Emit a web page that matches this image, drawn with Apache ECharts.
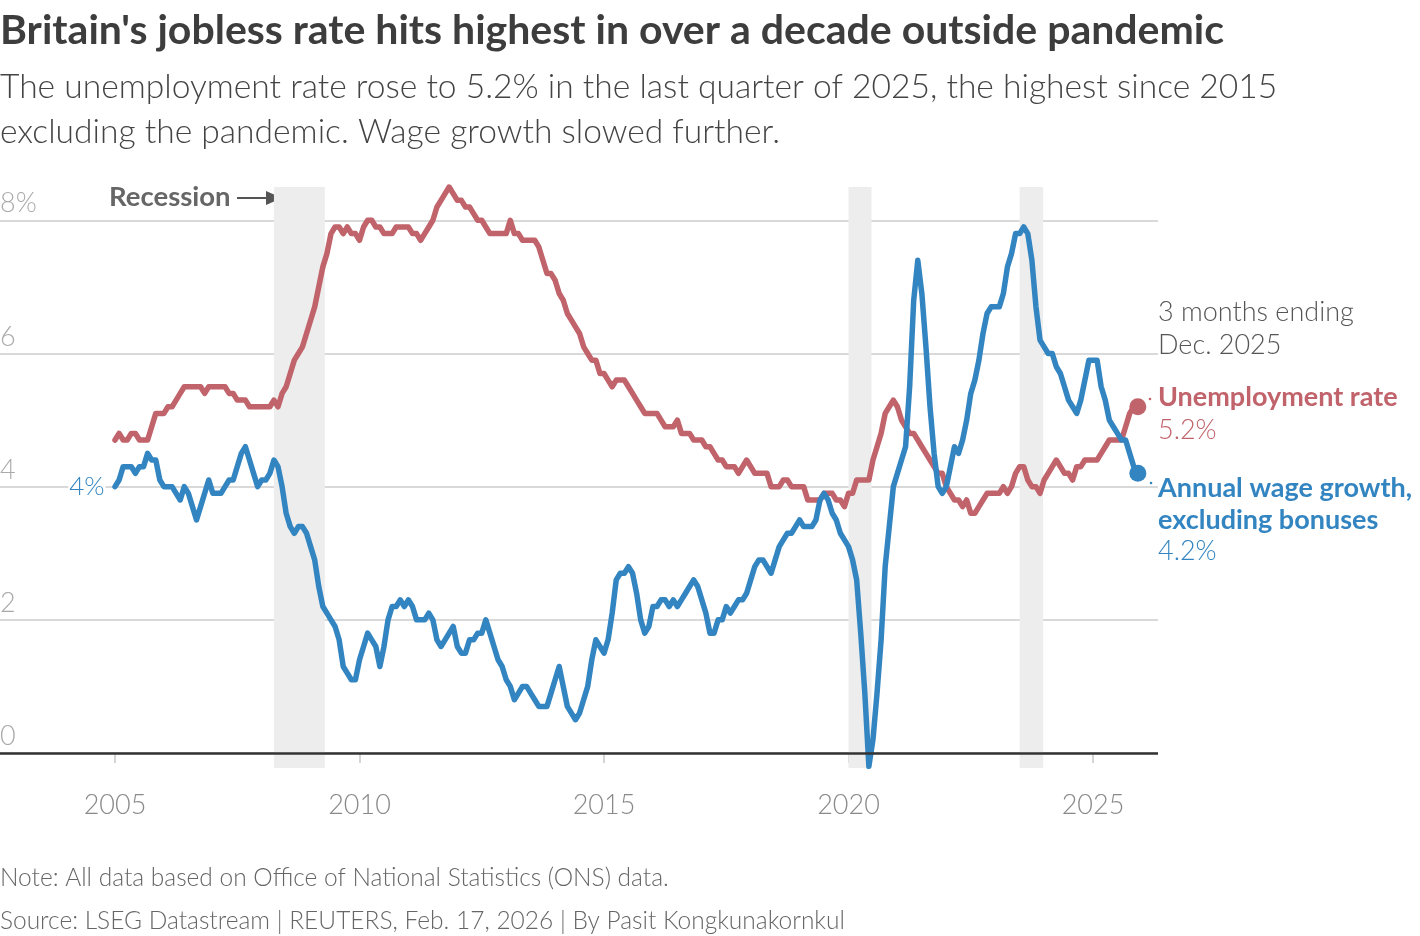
<!DOCTYPE html>
<html><head><meta charset="utf-8">
<script src="https://cdn.jsdelivr.net/npm/echarts@6/dist/echarts.min.js"></script>
<style>html,body{margin:0;padding:0;background:#fff}#c{width:1420px;height:936px}</style>
</head><body><div id="c"></div>
<script>
// ---- data: 3 months ending each month, Jan 2005 .. Dec 2025 ----
const startYear = 2005;
const unemployment = [
  4.7,4.8,4.7,4.7,4.8,4.8,4.7,4.7,4.7,4.9,5.1,5.1, // 2005
  5.1,5.2,5.2,5.3,5.4,5.5,5.5,5.5,5.5,5.5,5.4,5.5, // 2006
  5.5,5.5,5.5,5.5,5.4,5.4,5.3,5.3,5.3,5.2,5.2,5.2, // 2007
  5.2,5.2,5.2,5.3,5.2,5.4,5.5,5.7,5.9,6.0,6.1,6.3, // 2008
  6.5,6.7,7.0,7.3,7.5,7.8,7.9,7.9,7.8,7.9,7.8,7.8, // 2009
  7.7,7.9,8.0,8.0,7.9,7.9,7.8,7.8,7.8,7.9,7.9,7.9, // 2010
  7.9,7.8,7.8,7.7,7.8,7.9,8.0,8.2,8.3,8.4,8.5,8.4, // 2011
  8.3,8.3,8.2,8.2,8.1,8.0,8.0,7.9,7.8,7.8,7.8,7.8, // 2012
  7.8,8.0,7.8,7.8,7.7,7.7,7.7,7.7,7.6,7.4,7.2,7.2, // 2013
  7.1,6.9,6.8,6.6,6.5,6.4,6.3,6.1,6.0,5.9,5.9,5.7, // 2014
  5.7,5.6,5.5,5.6,5.6,5.6,5.5,5.4,5.3,5.2,5.1,5.1, // 2015
  5.1,5.1,5.0,4.9,4.9,4.9,5.0,4.8,4.8,4.8,4.7,4.7, // 2016
  4.7,4.6,4.6,4.5,4.4,4.4,4.3,4.3,4.3,4.2,4.3,4.4, // 2017
  4.3,4.2,4.2,4.2,4.2,4.0,4.0,4.0,4.1,4.1,4.0,4.0, // 2018
  4.0,4.0,3.8,3.8,3.8,3.8,3.9,3.9,3.9,3.8,3.8,3.7, // 2019
  3.9,3.9,4.1,4.1,4.1,4.1,4.4,4.6,4.8,5.1,5.2,5.3, // 2020
  5.2,5.0,4.9,4.8,4.8,4.7,4.6,4.5,4.4,4.3,4.2,4.2, // 2021
  4.0,3.9,3.8,3.8,3.7,3.8,3.6,3.6,3.7,3.8,3.9,3.9, // 2022
  3.9,3.9,4.0,3.9,4.0,4.2,4.3,4.3,4.1,4.0,4.0,3.9, // 2023
  4.1,4.2,4.3,4.4,4.3,4.2,4.2,4.1,4.3,4.3,4.4,4.4, // 2024
  4.4,4.4,4.5,4.6,4.7,4.7,4.7,4.7,4.9,5.1,5.2,5.2  // 2025
];
const wageGrowth = [
  4.0,4.1,4.3,4.3,4.3,4.2,4.3,4.3,4.5,4.4,4.4,4.1, // 2005
  4.0,4.0,4.0,3.9,3.8,4.0,3.9,3.7,3.5,3.7,3.9,4.1, // 2006
  3.9,3.9,3.9,4.0,4.1,4.1,4.3,4.5,4.6,4.4,4.2,4.0, // 2007
  4.1,4.1,4.2,4.4,4.3,4.0,3.6,3.4,3.3,3.4,3.4,3.3, // 2008
  3.1,2.9,2.5,2.2,2.1,2.0,1.9,1.7,1.3,1.2,1.1,1.1, // 2009
  1.4,1.6,1.8,1.7,1.6,1.3,1.6,2.0,2.2,2.2,2.3,2.2, // 2010
  2.3,2.2,2.0,2.0,2.0,2.1,2.0,1.7,1.6,1.7,1.8,1.9, // 2011
  1.6,1.5,1.5,1.7,1.7,1.8,1.8,2.0,1.8,1.6,1.4,1.3, // 2012
  1.1,1.0,0.8,0.9,1.0,1.0,0.9,0.8,0.7,0.7,0.7,0.9, // 2013
  1.1,1.3,1.0,0.7,0.6,0.5,0.6,0.8,1.0,1.4,1.7,1.6, // 2014
  1.5,1.7,2.1,2.6,2.7,2.7,2.8,2.7,2.4,2.0,1.8,1.9, // 2015
  2.2,2.2,2.3,2.3,2.2,2.3,2.2,2.3,2.4,2.5,2.6,2.5, // 2016
  2.3,2.1,1.8,1.8,2.0,2.0,2.2,2.1,2.2,2.3,2.3,2.4, // 2017
  2.6,2.8,2.9,2.9,2.8,2.7,2.9,3.1,3.2,3.3,3.3,3.4, // 2018
  3.5,3.4,3.4,3.4,3.5,3.8,3.9,3.8,3.6,3.5,3.3,3.2, // 2019
  3.1,2.9,2.6,1.8,0.9,-0.2,0.2,0.9,1.7,2.8,3.4,4.0, // 2020
  4.2,4.4,4.6,5.5,6.8,7.4,6.9,6.1,5.2,4.5,4.0,3.9, // 2021
  4.0,4.3,4.6,4.5,4.7,5.0,5.4,5.6,5.9,6.3,6.6,6.7, // 2022
  6.7,6.7,6.9,7.3,7.5,7.8,7.8,7.9,7.8,7.4,6.7,6.2, // 2023
  6.1,6.0,6.0,5.8,5.7,5.5,5.3,5.2,5.1,5.3,5.6,5.9, // 2024
  5.9,5.9,5.5,5.3,5.0,4.9,4.8,4.7,4.7,4.5,4.3,4.2  // 2025
];
const xTicks = [2005, 2010, 2015, 2020, 2025];
const yTicks = [0, 2, 4, 6, 8];
const recessions = [[2008.25, 2009.29], [2020.0, 2020.47], [2023.5, 2023.98]];

const RED = '#c1636b', BLUE = '#3385c1';
const FF = 'Lato, "Noto Sans", sans-serif';
const toPts = arr => arr.map((v, i) => [startYear + i / 12, v]);
const uPts = toPts(unemployment), wPts = toPts(wageGrowth);
const uLast = uPts[uPts.length - 1], wLast = wPts[wPts.length - 1];

const chart = echarts.init(document.getElementById('c'), null, {renderer: 'canvas'});
const txt = (x, y, text, size, weight, fill, extra) => Object.assign({
  type: 'text', x: x, y: y, silent: true,
  style: { text: text, font: weight + ' ' + size + 'px ' + FF, fill: fill, textAlign: 'left', textVerticalAlign: 'middle' }
}, extra || {});

chart.setOption({
  animation: false,
  backgroundColor: '#fff',
  grid: { left: 0, right: 262, top: 187, bottom: 168, containLabel: false, outerBoundsMode: 'none' },
  xAxis: {
    type: 'value', min: 2002.648, max: 2026.329,
    axisLine: { show: false },
    axisTick: { show: true, customValues: xTicks, length: 10, lineStyle: { color: '#c8c8c8', width: 1.5 } },
    axisLabel: { customValues: xTicks, margin: 24, fontSize: 27, fontFamily: FF, fontWeight: 300, color: '#8a8a8a', formatter: v => String(v) },
    splitLine: { show: false }
  },
  yAxis: {
    type: 'value', min: -0.225, max: 8.5,
    axisLine: { show: false },
    axisTick: { show: false, customValues: yTicks },
    axisLabel: { customValues: yTicks, inside: true, margin: 0, fontSize: 27, fontFamily: FF, fontWeight: 300, color: '#aaaaaa',
      verticalAlign: 'bottom', padding: [0, 0, 3, 0], formatter: v => v === 8 ? '8%' : String(v) },
    splitLine: { show: true, lineStyle: { color: '#cccccc', width: 1.5 } }
  },
  series: [
    { type: 'line', name: 'bands', data: [], z: 1, silent: true,
      markArea: { silent: true, itemStyle: { color: '#ededed' },
        data: recessions.map(r => [{ xAxis: r[0] }, { xAxis: r[1] }]) } },
    { type: 'line', name: 'base', data: [], z: 2, silent: true,
      markLine: { silent: true, symbol: 'none', label: { show: false },
        lineStyle: { color: '#333', width: 2.5, type: 'solid' }, data: [{ yAxis: 0 }] } },
    { type: 'line', name: 'Unemployment rate', data: uPts, z: 3, showSymbol: false, silent: true,
      lineStyle: { color: RED, width: 5.5, join: 'round', cap: 'round' }, itemStyle: { color: RED },
      markPoint: { silent: true, symbol: 'circle', symbolSize: 17, itemStyle: { color: RED }, label: { show: false },
        data: [{ coord: uLast }] } },
    { type: 'line', name: 'Annual wage growth', data: wPts, z: 4, showSymbol: false, silent: true,
      lineStyle: { color: BLUE, width: 5.5, join: 'round', cap: 'round' }, itemStyle: { color: BLUE },
      markPoint: { silent: true, symbol: 'circle', itemStyle: { color: BLUE },
        data: [
          { coord: wLast, symbolSize: 17, label: { show: false } },
          { coord: wPts[0], symbolSize: 1, label: { show: true, position: 'left', distance: 9, formatter: '4%',
              fontSize: 26, fontFamily: FF, fontWeight: 300, color: BLUE, backgroundColor: '#fff', padding: [0, 1] } }
        ] } }
  ],
  graphic: [
    txt(0, 31, "Britain's jobless rate hits highest in over a decade outside pandemic", 41, 'bold', '#3d3d3d'),
    txt(0, 87, 'The unemployment rate rose to 5.2% in the last quarter of 2025, the highest since 2015', 33.6, 300, '#444'),
    txt(0, 132, 'excluding the pandemic. Wage growth slowed further.', 33.6, 300, '#444'),
    txt(109, 197, 'Recession', 27.5, 'bold', '#666'),
    { type: 'line', silent: true, shape: { x1: 237, y1: 198, x2: 270, y2: 198 }, style: { stroke: '#555', lineWidth: 2 } },
    { type: 'polygon', silent: true, shape: { points: [[266, 191], [282, 198], [266, 205]] }, style: { fill: '#555' } },
    txt(1158, 312, '3 months ending', 27, 300, '#555'),
    txt(1158, 345, 'Dec. 2025', 27, 300, '#555'),
    txt(1158, 397, 'Unemployment rate', 27, 'bold', RED),
    txt(1158, 430, uLast[1].toFixed(1) + '%', 27, 300, RED),
    txt(1158, 488, 'Annual wage growth,', 27, 'bold', BLUE),
    txt(1158, 520, 'excluding bonuses', 27, 'bold', BLUE),
    txt(1158, 551, wLast[1].toFixed(1) + '%', 27, 300, BLUE),
    { type: 'circle', silent: true, shape: { cx: 1150, cy: 399, r: 1.3 }, style: { fill: RED } },
    { type: 'circle', silent: true, shape: { cx: 1151, cy: 483, r: 1.3 }, style: { fill: BLUE } },
    txt(0, 878, 'Note: All data based on Office of National Statistics (ONS) data.', 24.5, 300, '#666'),
    txt(0, 921, 'Source: LSEG Datastream | REUTERS, Feb. 17, 2026 | By Pasit Kongkunakornkul', 24.5, 300, '#666')
  ]
});
</script></body></html>
